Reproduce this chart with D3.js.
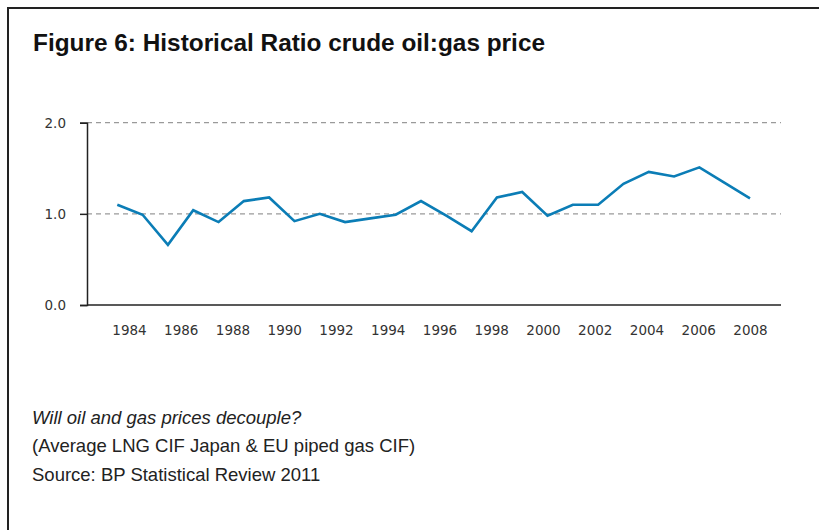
<!DOCTYPE html>
<html>
<head>
<meta charset="utf-8">
<script src="https://cdn.jsdelivr.net/npm/d3@7"></script>
<style>
  html, body { margin: 0; padding: 0; background: #fff; }
  svg { display: block; }
</style>
</head>
<body>
<svg id="chart" width="819" height="530"></svg>
<script>
// data
const years = d3.range(1983, 2009)
const ratio = [1.10, 0.99, 0.66, 1.04, 0.91, 1.14, 1.18, 0.92, 1.00, 0.91,
               0.95, 0.99, 1.14, 0.98, 0.81, 1.18, 1.24, 0.98, 1.10, 1.10,
               1.33, 1.46, 1.41, 1.51, 1.34, 1.17]
const yearLabels = d3.range(1984, 2009, 2)
const yTicks = [0, 1, 2]
const notes = [
  "Will oil and gas prices decouple?",
  "(Average LNG CIF Japan & EU piped gas CIF)",
  "Source: BP Statistical Review 2011"
]

const svg = d3.select("#chart")

// frame (open on right and bottom)
svg.append("path")
   .attr("d", "M8,540V8H830")
   .attr("fill", "none")
   .attr("stroke", "#222")
   .attr("stroke-width", 2)

svg.append("text")
   .attr("x", 33)
   .attr("y", 51)
   .attr("font-family", "'Liberation Sans', sans-serif")
   .attr("font-weight", "bold")
   .attr("font-size", 24)
   .attr("textLength", 512)
   .attr("lengthAdjust", "spacingAndGlyphs")
   .attr("fill", "#111")
   .text("Figure 6: Historical Ratio crude oil:gas price")

const plot = { left: 87, right: 781, top: 122.7, bottom: 305 }

const y = d3.scaleLinear().domain([0, 2]).range([plot.bottom, plot.top])
const x = d3.scaleLinear().domain([1983, 2008]).range([117.3, 750])
// year labels sit on their own spacing in the original
const xLab = d3.scaleLinear().domain([1984, 2008]).range([129, 750])

// dashed gridlines
svg.selectAll("line.grid")
   .data(yTicks.filter(d => d > 0))
   .enter()
   .append("line")
   .attr("class", "grid")
   .attr("x1", plot.left)
   .attr("x2", plot.right)
   .attr("y1", d => y(d))
   .attr("y2", d => y(d))
   .attr("stroke", "#9a9a9a")
   .attr("stroke-width", 1.2)
   .attr("stroke-dasharray", "5,4")

// y axis
const yAxis = svg.append("g")
   .attr("transform", `translate(${plot.left},0)`)
   .call(d3.axisLeft(y).tickValues(yTicks).tickFormat(d3.format(".1f")).tickSize(7).tickPadding(14))
yAxis.select(".domain").attr("stroke", "#222").attr("stroke-width", 1.5)
yAxis.selectAll(".tick line").attr("stroke", "#222").attr("stroke-width", 1.5)
yAxis.selectAll(".tick text")
   .attr("font-family", "'DejaVu Sans', sans-serif")
   .attr("font-size", 13.5)
   .attr("fill", "#333")

// x baseline
svg.append("line")
   .attr("x1", plot.left)
   .attr("x2", plot.right)
   .attr("y1", plot.bottom)
   .attr("y2", plot.bottom)
   .attr("stroke", "#222")
   .attr("stroke-width", 1.5)

// year labels
const xAxis = svg.append("g")
   .attr("transform", `translate(0,${plot.bottom})`)
   .call(d3.axisBottom(xLab).tickValues(yearLabels).tickFormat(d3.format("d")).tickSize(0).tickPadding(20))
xAxis.select(".domain").remove()
xAxis.selectAll(".tick text")
   .attr("font-family", "'DejaVu Sans', sans-serif")
   .attr("font-size", 13.5)
   .attr("fill", "#333")

// ratio line
const line = d3.line()
   .x((d, i) => x(years[i]))
   .y(d => y(d))

svg.append("path")
   .datum(ratio)
   .attr("d", line)
   .attr("fill", "none")
   .attr("stroke", "#0b7db6")
   .attr("stroke-width", 2.6)
   .attr("stroke-linejoin", "miter")

// notes
svg.selectAll("text.note")
   .data(notes)
   .enter()
   .append("text")
   .attr("class", "note")
   .attr("x", 32)
   .attr("y", (d, i) => 423.5 + i * 28.5)
   .attr("font-family", "'Liberation Sans', sans-serif")
   .attr("font-size", 18.5)
   .attr("font-style", (d, i) => i === 0 ? "italic" : "normal")
   .attr("fill", "#222")
   .text(d => d)
</script>
</body>
</html>
